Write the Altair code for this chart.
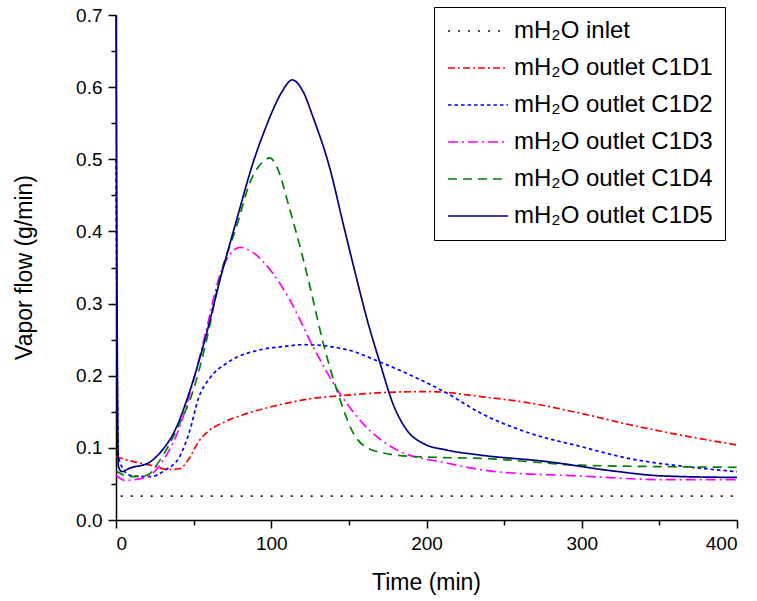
import altair as alt
import pandas as pd

# Series labels, colours and dash patterns
names = ["mH₂O inlet", "mH₂O outlet C1D1", "mH₂O outlet C1D2",
         "mH₂O outlet C1D3", "mH₂O outlet C1D4", "mH₂O outlet C1D5"]
colors = ["#111111", "#ff0000", "#0000ff", "#ff00ff", "#008000", "#000080"]
dashes = [[2, 8], [7, 3, 2, 3], [3.5, 3], [10, 4, 2, 4], [9, 6], [1, 0]]

# Vapor flow (g/min) versus time (min)
t_inlet = [3, 400]
v_inlet = [0.033, 0.033]

t_c1d1 = [0, 9, 22, 34, 41, 47, 53, 60, 70, 82, 104, 125, 149, 176, 202,
          235, 267, 299, 331, 363, 400]
v_c1d1 = [0.088, 0.082, 0.076, 0.070, 0.071, 0.085, 0.108, 0.124, 0.136, 0.146,
          0.159, 0.168, 0.173, 0.177, 0.178, 0.171, 0.162, 0.148, 0.132, 0.118, 0.104]

t_c1d2 = [0, 1.5, 3.7, 9, 22, 31.6, 41, 47.7, 53, 60.5, 71, 93, 106, 121, 149,
          170, 191.5, 213, 235, 267, 299, 331, 363, 400]
v_c1d2 = [0.50, 0.09, 0.074, 0.062, 0.060, 0.069, 0.088, 0.125, 0.168, 0.197,
          0.217, 0.236, 0.240, 0.243, 0.236, 0.219, 0.199, 0.176, 0.148, 0.120,
          0.102, 0.085, 0.075, 0.067]

t_c1d3 = [0, 5.8, 20, 30.5, 41, 50, 58, 67, 73, 80, 88, 101, 112, 127, 144,
          159, 181, 213, 245, 299, 352, 400]
v_c1d3 = [0.062, 0.055, 0.060, 0.083, 0.129, 0.194, 0.262, 0.340, 0.367, 0.378,
          0.371, 0.342, 0.305, 0.240, 0.176, 0.134, 0.097, 0.079, 0.067, 0.061,
          0.056, 0.056]

t_c1d4 = [0, 9, 20, 28.3, 39, 49.8, 58.4, 67, 77.7, 86.3, 94.9, 99.2, 103.5,
          112, 119.6, 125, 133.5, 143.2, 155, 168, 191.5, 239, 299, 352, 400]
v_c1d4 = [0.068, 0.060, 0.062, 0.083, 0.125, 0.180, 0.250, 0.337, 0.407, 0.468,
          0.497, 0.502, 0.490, 0.430, 0.370, 0.323, 0.245, 0.174, 0.113, 0.095,
          0.088, 0.085, 0.076, 0.074, 0.073]

t_c1d5 = [0, 1.5, 3.7, 9, 20.8, 28.3, 39, 47.7, 58.4, 67, 77.7, 88.4, 95,
          101, 107, 113.5, 120.7, 127, 137.8, 146.4, 154.6, 162, 170, 178.6,
          187.2, 198, 213, 234.5, 277.4, 320, 352.5, 400]
v_c1d5 = [0.70, 0.075, 0.067, 0.072, 0.079, 0.093, 0.129, 0.180, 0.259, 0.333,
          0.416, 0.496, 0.536, 0.568, 0.594, 0.610, 0.593, 0.558, 0.487, 0.410,
          0.338, 0.276, 0.218, 0.160, 0.125, 0.106, 0.097, 0.090, 0.081, 0.068,
          0.061, 0.059]

# Tick positions: majors are labelled, minors sit halfway between them
x_ticks = [0, 50, 100, 150, 200, 250, 300, 350, 400]
y_ticks = [0.0, 0.05, 0.1, 0.15, 0.2, 0.25, 0.3, 0.35, 0.4, 0.45, 0.5, 0.55,
           0.6, 0.65, 0.7]

series = [t_inlet, t_c1d1, t_c1d2, t_c1d3, t_c1d4, t_c1d5]
values = [v_inlet, v_c1d1, v_c1d2, v_c1d3, v_c1d4, v_c1d5]
rows = []
for i, (name, ts, vs) in enumerate(zip(names, series, values)):
    for t, v in zip(ts, vs):
        rows.append({"series": name, "rank": i, "t": t, "v": v})
df = pd.DataFrame(rows)

PLOT_W, PLOT_H = 621, 505
FONT = "Liberation Sans"
x_scale = alt.Scale(domain=[0, 400], nice=False, zero=False)
y_scale = alt.Scale(domain=[0, 0.7], nice=False)

x_major_test = "datum.value % 100 == 0"
y_major_test = "round(datum.value * 100) % 10 == 0"

axis_common = dict(grid=False, domainColor="black", domainWidth=1.5,
                   tickColor="black", tickWidth=1.5, labelFont=FONT,
                   labelFontSize=19, labelColor="black", titleFont=FONT,
                   titleFontSize=23, titleFontWeight="normal", titleColor="black",
                   labelPadding=6)

x_axis = alt.Axis(
    values=x_ticks, labelExpr=f"{x_major_test} ? datum.label : ''",
    tickSize={"condition": {"test": x_major_test, "value": 8}, "value": 5},
    title="Time (min)", titleX=310, titleY=62, titleAlign="center",
    titleBaseline="middle", orient="bottom", **axis_common)
y_axis = alt.Axis(
    values=y_ticks, format=".1f",
    labelExpr=f"{y_major_test} ? datum.label : ''",
    tickSize={"condition": {"test": y_major_test, "value": 8}, "value": 5},
    title="Vapor flow (g/min)", titleX=-92, titleY=252, titleAlign="center",
    titleBaseline="middle", orient="left", **axis_common)

# Legend line samples: a short horizontal path that vega scales by sqrt(size)/2
legend = alt.Legend(
    title=None, orient="none", legendX=318, legendY=-8,
    symbolType="M-3,0H3", symbolSize=400, symbolStrokeWidth=1.7,
    symbolOffset=20, labelOffset=24,
    labelFont=FONT, labelFontSize=24, labelColor="black", labelLimit=400,
    rowPadding=13, padding=12, strokeColor="black", fillColor="white",
    cornerRadius=0,
)

chart = alt.Chart(df).mark_line(strokeWidth=1.7, interpolate="monotone").encode(
    x=alt.X("t:Q", scale=x_scale, axis=x_axis),
    y=alt.Y("v:Q", scale=y_scale, axis=y_axis),
    color=alt.Color("series:N", scale=alt.Scale(domain=names, range=colors), legend=legend),
    strokeDash=alt.StrokeDash("series:N", scale=alt.Scale(domain=names, range=dashes), legend=legend),
    order=alt.Order("rank:Q"),
).properties(
    width=PLOT_W, height=PLOT_H,
    autosize=alt.AutoSizeParams(type="none"),
    padding={"left": 116, "top": 15, "right": 20, "bottom": 81},
    background="white",
).configure_view(stroke=None)

chart.save("out.html", embed_options={"renderer": "svg", "actions": False})
